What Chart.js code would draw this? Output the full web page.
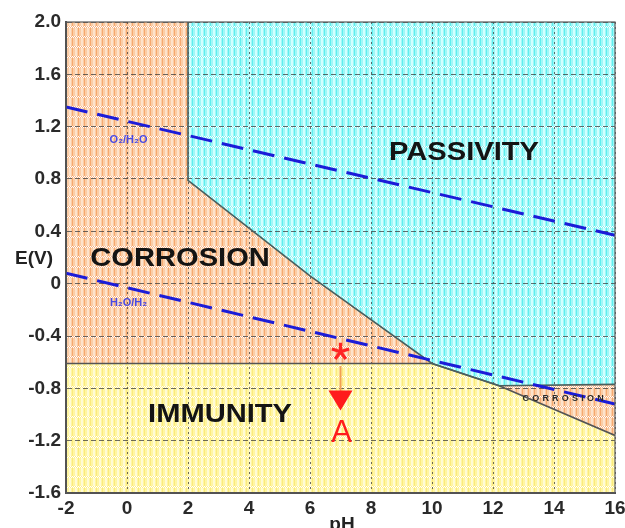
<!DOCTYPE html>
<html><head><meta charset="utf-8">
<script src="https://cdn.jsdelivr.net/npm/chart.js@4/dist/chart.umd.min.js"></script>
<style>html,body{margin:0;padding:0;background:#fff;overflow:hidden}#wrap{width:625px;height:528px;position:relative}canvas{display:block}</style>
</head><body><div id="wrap"><canvas id="c" width="625" height="528" style="width:625px;height:528px"></canvas></div>
<script>
// ---- data ----
const phTicks = [-2, 0, 2, 4, 6, 8, 10, 12, 14, 16];
const eTicks = [-1.6, -1.2, -0.8, -0.4, 0, 0.4, 0.8, 1.2, 1.6, 2.0];
const eTickLabels = ['-1.6', '-1.2', '-0.8', '-0.4', '0', '0.4', '0.8', '1.2', '1.6', '2.0'];

const corrosionPH = [-2, 16];
const corrosionE = [2.0, 2.0];
const passivityPH = [2, 2, 6, 10, 12.2, 16];
const passivityE = [2.0, 0.79, 0.06, -0.61, -0.78, -0.77];
const immunityPH = [-2, 10, 12.2, 16];
const immunityE = [-0.61, -0.61, -0.78, -1.16];
const o2PH = [-2, 16];
const o2E = [1.35, 0.37];
const h2PH = [-2, 16];
const h2E = [0.08, -0.92];
const markerPH = 7;
const markerE = -0.52;
const arrowFromE = -0.63;
const arrowToE = -0.97;

const pts = (xs, ys) => xs.map((x, i) => ({x: x, y: ys[i]}));

const cv = document.getElementById('c');
const tmpCtx = cv.getContext('2d');
function makePattern(base, dark, light, dotA, dotB) {
  const c = document.createElement('canvas');
  c.width = 6; c.height = 10;
  const g = c.getContext('2d');
  g.fillStyle = base; g.fillRect(0, 0, 6, 10);
  g.fillStyle = dark; g.fillRect(0, 0, 1, 10);
  g.fillStyle = light; g.fillRect(3, 0, 2, 10);
  for (let x = 0; x < 6; x++) {
    g.fillStyle = (x % 2 === 0) ? dotA : dotB;
    g.fillRect(x, 6, 1, 1);
    g.fillStyle = (x % 2 === 0) ? dotB : dotA;
    g.fillRect(x, 7, 1, 1);
  }
  return tmpCtx.createPattern(c, 'repeat');
}
const orangeFill = makePattern('#fbcda6', '#f6a96f', '#fde3cc', '#ffffff', '#f8b484');
const cyanFill = makePattern('#9ff7f7', '#5eeeee', '#d2ffff', '#ffffff', '#7ff2f2');
const yellowFill = makePattern('#fff6a2', '#fbea7c', '#fffbd6', '#ffffff', '#fff08a');

const labelPlugin = {
  id: 'labels',
  afterDatasetsDraw(chart) {
    const ctx = chart.ctx, xs = chart.scales.x, ys = chart.scales.y, a = chart.chartArea;
    ctx.save();
    ctx.strokeStyle = '#5a5a5a'; ctx.lineWidth = 1.2;
    ctx.strokeRect(a.left, a.top, a.right - a.left, a.bottom - a.top);

    const X = v => xs.getPixelForValue(v), Y = v => ys.getPixelForValue(v);
    function big(txt, px, py) {
      ctx.save();
      ctx.font = 'bold 26px "Liberation Sans", Arial, sans-serif';
      ctx.fillStyle = '#141414'; ctx.textAlign = 'center'; ctx.textBaseline = 'middle';
      ctx.translate(px, py); ctx.scale(1.12, 1);
      ctx.fillText(txt, 0, 0);
      ctx.restore();
    }
    big('PASSIVITY', X(11.05), Y(1.0));
    big('CORROSION', X(1.74), Y(0.19));
    big('IMMUNITY', X(3.05), Y(-1.0));

    ctx.font = 'bold 11px "Liberation Sans", Arial, sans-serif';
    ctx.fillStyle = '#4a4ae2'; ctx.textAlign = 'center'; ctx.textBaseline = 'middle';
    ctx.fillText('O\u2082/H\u2082O', X(0.05), Y(1.1));
    ctx.fillText('H\u2082O/H\u2082', X(0.05), Y(-0.145));

    ctx.save();
    ctx.font = 'bold 9px "Liberation Sans", Arial, sans-serif';
    ctx.fillStyle = '#2a2a2a'; ctx.letterSpacing = '3.2px';
    ctx.fillText('CORROSION', X(14.35), Y(-0.88));
    ctx.restore();

    const sx = X(markerPH), sy = Y(markerE);
    ctx.strokeStyle = '#ff2424'; ctx.lineWidth = 3.2;
    ctx.beginPath();
    for (let k = 0; k < 5; k++) {
      const ang = -Math.PI / 2 + k * 2 * Math.PI / 5;
      ctx.moveTo(sx, sy);
      ctx.lineTo(sx + 9 * Math.cos(ang), sy + 9 * Math.sin(ang));
    }
    ctx.stroke();
    const y0 = Y(arrowFromE), y1 = Y(arrowToE);
    ctx.strokeStyle = '#f2a052'; ctx.lineWidth = 2;
    ctx.beginPath(); ctx.moveTo(sx, y0); ctx.lineTo(sx, y1 - 18); ctx.stroke();
    ctx.fillStyle = '#ff1c1c';
    ctx.beginPath(); ctx.moveTo(sx - 12, y1 - 20); ctx.lineTo(sx + 12, y1 - 20); ctx.lineTo(sx, y1); ctx.closePath(); ctx.fill();
    ctx.font = '31px "Liberation Sans", Arial, sans-serif';
    ctx.textAlign = 'center'; ctx.textBaseline = 'alphabetic';
    ctx.fillText('A', sx + 1, y1 + 31);

    ctx.fillStyle = '#222';
    ctx.font = 'bold 19px "Liberation Sans", Arial, sans-serif';
    ctx.textAlign = 'center';
    ctx.textBaseline = 'middle';
    ctx.fillText('E(V)', 34, Y(0.19));
    ctx.textBaseline = 'alphabetic';
    ctx.fillText('pH', X(7.05), 530);
    ctx.restore();
  }
};

new Chart(cv, {
  type: 'line',
  data: {
    datasets: [
      {data: pts(o2PH, o2E), borderColor: '#1c1cd8', borderWidth: 3, borderDash: [22, 10], fill: false, order: 1},
      {data: pts(h2PH, h2E), borderColor: '#1c1cd8', borderWidth: 3, borderDash: [22, 10], fill: false, order: 1},
      {data: pts(passivityPH, passivityE), borderColor: '#4a5f5f', borderWidth: 1.6, backgroundColor: cyanFill, fill: 'end', order: 3},
      {data: pts(immunityPH, immunityE), borderColor: '#555555', borderWidth: 1.6, backgroundColor: yellowFill, fill: 'start', order: 4},
      {data: pts(corrosionPH, corrosionE), borderWidth: 0, borderColor: 'rgba(0,0,0,0)', backgroundColor: orangeFill, fill: 'start', order: 5}
    ]
  },
  options: {
    responsive: false,
    maintainAspectRatio: false,
    animation: false,
    devicePixelRatio: 1,
    layout: {padding: {top: 22, right: 0, left: 0, bottom: 0}},
    elements: {point: {radius: 0}, line: {tension: 0}},
    plugins: {legend: {display: false}, tooltip: {enabled: false}, filler: {drawTime: 'beforeDraw'}},
    scales: {
      x: {
        type: 'linear', min: -2, max: 16,
        afterFit: s => { s.height = 35; s.paddingRight = 10; },
        afterBuildTicks: s => { s.ticks = phTicks.map(v => ({value: v})); },
        grid: {color: 'rgba(60,60,60,0.75)', lineWidth: 1, drawTicks: false},
        border: {display: true, color: '#4a4a4a', width: 2, dash: [2, 3]},
        ticks: {padding: 4, autoSkip: false, maxRotation: 0, minRotation: 0, color: '#2a2a2a', font: {family: '"Liberation Sans", Arial, sans-serif', size: 19, weight: 'bold'}}
      },
      y: {
        type: 'linear', min: -1.6, max: 2.0,
        afterFit: s => { s.width = 66; },
        afterBuildTicks: s => { s.ticks = eTicks.map(v => ({value: v})); },
        grid: {color: 'rgba(60,60,60,0.75)', lineWidth: 1, drawTicks: false},
        border: {display: true, color: '#4a4a4a', width: 2, dash: [5, 3]},
        ticks: {padding: 5, autoSkip: false, color: '#2a2a2a', font: {family: '"Liberation Sans", Arial, sans-serif', size: 19, weight: 'bold'},
          callback: (v) => { const i = eTicks.indexOf(v); return i >= 0 ? eTickLabels[i] : ''; }}
      }
    }
  },
  plugins: [labelPlugin]
});
</script></body></html>
